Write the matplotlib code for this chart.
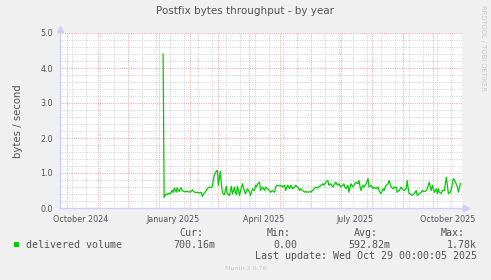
"""
Munin jaargrafiek: Postfix bytes throughput (delivered volume).
"""
import numpy as np
import pandas as pd
import matplotlib
matplotlib.use("Agg")
import matplotlib.pyplot as plt
import matplotlib.dates as mdates
from matplotlib.patches import Rectangle

# data: dagwaarden vanaf 5 januari 2025 (bytes / seconde)
start_date = "2025-01-05"
delivered = [
    4.40, 0.31, 0.36, 0.40, 0.38, 0.41, 0.42, 0.40, 0.45, 0.50, 0.44, 0.57, 0.52, 0.45, 0.58, 0.50,
    0.47, 0.55, 0.58, 0.50, 0.48, 0.47, 0.46, 0.48, 0.47, 0.46, 0.47, 0.45, 0.48, 0.52, 0.48, 0.46,
    0.45, 0.44, 0.45, 0.44, 0.43, 0.44, 0.45, 0.33, 0.38, 0.42, 0.46, 0.50, 0.55, 0.58, 0.60, 0.59,
    0.58, 0.62, 0.80, 0.95, 1.00, 1.05, 1.07, 0.65, 0.85, 1.05, 0.70, 0.45, 0.40, 0.38, 0.50, 0.62,
    0.40, 0.38, 0.35, 0.50, 0.62, 0.40, 0.48, 0.60, 0.45, 0.38,
    0.62, 0.50, 0.36, 0.48, 0.60, 0.69, 0.58, 0.48, 0.41, 0.48, 0.55, 0.50, 0.45, 0.36, 0.46, 0.55,
    0.52, 0.50, 0.65, 0.60, 0.68, 0.72, 0.74, 0.50, 0.55, 0.60, 0.55, 0.50, 0.60, 0.57, 0.55, 0.52,
    0.50, 0.45, 0.48, 0.50, 0.47, 0.45, 0.60, 0.63, 0.65, 0.64, 0.63, 0.65, 0.62, 0.60, 0.63, 0.65,
    0.50, 0.58, 0.65, 0.60, 0.55, 0.65, 0.60, 0.55, 0.58, 0.60, 0.65, 0.62, 0.60, 0.55, 0.50, 0.55,
    0.52, 0.50, 0.47, 0.45, 0.47, 0.46, 0.45, 0.46, 0.47, 0.45, 0.48, 0.50, 0.54, 0.57, 0.60, 0.58,
    0.57,
    0.60, 0.62, 0.65, 0.67, 0.69, 0.65, 0.70, 0.74, 0.77, 0.79, 0.65, 0.67, 0.69, 0.64, 0.60, 0.65,
    0.70, 0.74, 0.68, 0.65, 0.69, 0.64, 0.60, 0.63, 0.65, 0.69, 0.60, 0.55, 0.60, 0.65, 0.45, 0.58,
    0.69, 0.64, 0.60, 0.65, 0.70, 0.74, 0.71, 0.69, 0.79, 0.62, 0.50, 0.58, 0.65, 0.60, 0.64, 0.69,
    0.76, 0.84, 0.60, 0.62, 0.65, 0.60, 0.55, 0.60, 0.57, 0.55, 0.58, 0.60, 0.50, 0.45, 0.41, 0.48,
    0.55, 0.50, 0.58, 0.65, 0.67, 0.69, 0.79, 0.68, 0.60, 0.57, 0.55, 0.60,
    0.58, 0.60, 0.45, 0.48, 0.50, 0.55, 0.60, 0.55, 0.52, 0.50, 0.53, 0.55, 0.79, 0.55, 0.41, 0.40,
    0.38, 0.36, 0.38, 0.41, 0.45, 0.50, 0.36, 0.38, 0.41, 0.43, 0.45, 0.50, 0.48, 0.47, 0.48, 0.50,
    0.55, 0.65, 0.74, 0.60, 0.50, 0.65, 0.55, 0.45, 0.50, 0.55, 0.41, 0.55, 0.45, 0.43, 0.41, 0.50,
    0.50, 0.50, 0.70, 0.88, 0.65, 0.41, 0.43, 0.45, 0.55, 0.70, 0.84, 0.80, 0.74, 0.67, 0.60, 0.45,
    0.58, 0.70,
]

tick_labels = ["October 2024", "January 2025", "April 2025", "July 2025", "October 2025"]
label_dates = ["2024-10-15", "2025-01-15", "2025-04-15", "2025-07-15", "2025-10-15"]

legend_name = "delivered volume"
stat_names = ["Cur:", "Min:", "Avg:", "Max:"]
stat_values = ["700.16m", "0.00", "592.82m", "1.78k"]
last_update = "Last update: Wed Oct 29 00:00:05 2025"

W, H = 491, 280
BG = "#f0f0f0"
TXT = "#555555"
GREEN = "#00cc00"


def fx(px):
    return px / W


def fy(py):
    return 1 - py / H


fig = plt.figure(figsize=(W / 100, H / 100), dpi=100, facecolor=BG)
ax = fig.add_axes([fx(60), fy(208), fx(402), 175 / H])
ax.set_facecolor("white")

dates = pd.date_range(start_date, periods=len(delivered), freq="D")
ax.plot(dates, delivered, color=GREEN, lw=0.9, zorder=3)

ax.set_xlim(mdates.date2num(pd.Timestamp("2024-09-24 08:00")),
            mdates.date2num(pd.Timestamp("2025-10-29 14:00")))
ax.set_ylim(0, 5)

# grid: maanden rood, om de twee weken grijs
ax.set_xticks(pd.date_range("2024-10-01", "2025-10-01", freq="MS"))
ax.set_xticks(pd.date_range("2024-10-06", "2025-10-29", freq="14D"), minor=True)
ax.set_yticks(np.arange(0, 5.01, 1.0))
ax.set_yticks(np.arange(0, 5.01, 0.2), minor=True)
ax.set_yticklabels(["%.1f" % v for v in np.arange(0, 5.01, 1.0)])
ax.set_xticklabels([])

ax.grid(which="minor", color="#d2d2d2", lw=0.72, ls=(0, (1, 1.2)), zorder=1)
ax.grid(which="major", color="#f2a6a6", lw=0.72, ls=(0, (1, 1.2)), zorder=2)
ax.set_axisbelow(True)

ax.tick_params(which="both", length=0, labelsize=5.8, colors=TXT, pad=5)

for s in ["top", "right"]:
    ax.spines[s].set_visible(False)
for s in ["left", "bottom"]:
    ax.spines[s].set_color("#ccccff")
    ax.spines[s].set_linewidth(1.0)

# pijltjes aan de assen
ax.plot([0], [1.025], marker="^", ms=4, color="#ccccff", transform=ax.transAxes, clip_on=False)
ax.plot([1.01], [0], marker=">", ms=4, color="#ccccff", transform=ax.transAxes, clip_on=False)

for lab, d in zip(tick_labels, label_dates):
    ax.text(mdates.date2num(pd.Timestamp(d)), -0.04, lab, transform=ax.get_xaxis_transform(),
            ha="center", va="top", fontsize=5.8, color=TXT)

fig.text(0.5, fy(11.5), "Postfix bytes throughput - by year", ha="center", va="center",
         fontsize=7.5, color=TXT)
fig.text(fx(18), fy(121), "bytes / second", rotation=90, ha="center", va="center",
         fontsize=7.3, color=TXT)
fig.text(fx(483), fy(5), "RRDTOOL / TOBI OETIKER", rotation=270, ha="center", va="top",
         fontsize=4.9, color="#c8c8c8")

# legenda
fig.patches.append(Rectangle((fx(14), fy(247)), fx(5), 5 / H, transform=fig.transFigure,
                             facecolor=GREEN, edgecolor="none"))
mono = dict(family="DejaVu Sans Mono", fontsize=7.2, color=TXT, va="center")
fig.text(fx(26), fy(244.5), legend_name, ha="left", **mono)
for name, val, hx, vx in zip(stat_names, stat_values, [179, 267, 354, 441], [173, 273, 348, 447]):
    fig.text(fx(hx), fy(233.3), name, ha="left", **mono)
    fig.text(fx(vx), fy(244.5), val, ha="left", **mono)
fig.text(fx(477), fy(256), last_update, ha="right", **mono)
fig.text(0.5, fy(268.5), "Munin 2.0.76", ha="center", va="center", fontsize=4.6, color="#c8c8c8")

fig.savefig("out.png", dpi=100, facecolor=BG)
